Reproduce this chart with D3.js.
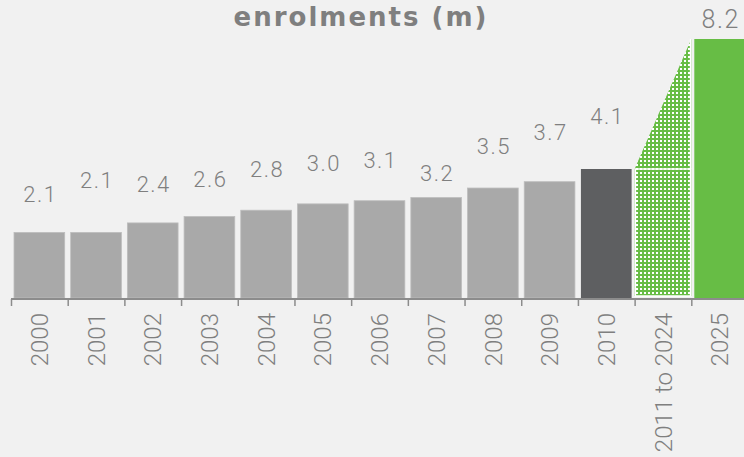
<!DOCTYPE html>
<html>
<head>
<meta charset="utf-8">
<script src="https://cdn.jsdelivr.net/npm/d3@7"></script>
<style>
    html, body { margin: 0; padding: 0; background: #f1f1f1; overflow: hidden; }
    text { font-family: Roboto, "Open Sans", sans-serif; fill: #7f7f7f; }
</style>
</head>
<body>
<div id="wrapper"></div>
<script>
// data
const years = ["2000", "2001", "2002", "2003", "2004", "2005", "2006", "2007", "2008", "2009", "2010", "2011 to 2024", "2025"];
const enrolments = [2.1, 2.1, 2.4, 2.6, 2.8, 3.0, 3.1, 3.2, 3.5, 3.7, 4.1, null, 8.2];
const valueLabels = ["2.1", "2.1", "2.4", "2.6", "2.8", "3.0", "3.1", "3.2", "3.5", "3.7", "4.1", "", "8.2"];
const chartTitle = "enrolments (m)";

// layout only: how far each value label sits above its bar (px)
const labelRaise = [30, 44, 31, 30, 33, 33, 33, 17, 34, 42, 45, 0, 11];

function drawChart() {
    let dimensions = {
        width: 744,
        height: 457,
        margins: { top: 39, right: -4, bottom: 158, left: 11 }
    };
    dimensions.boundedWidth = dimensions.width - dimensions.margins.left - dimensions.margins.right;
    dimensions.boundedHeight = dimensions.height - dimensions.margins.top - dimensions.margins.bottom;

    const wrapper = d3.select('#wrapper')
        .append('svg')
        .attr('width', dimensions.width)
        .attr('height', dimensions.height)
        .style('display', 'block');

    wrapper.append('rect')
        .attr('width', dimensions.width)
        .attr('height', dimensions.height)
        .attr('fill', '#f1f1f1');

    // dotted green fill for the projected years
    const pattern = wrapper.append('defs')
        .append('pattern')
        .attr('id', 'dots')
        .attr('patternUnits', 'userSpaceOnUse')
        .attr('width', 4)
        .attr('height', 4);
    pattern.append('rect').attr('width', 4).attr('height', 4).attr('fill', '#67bd45');
    pattern.append('rect').attr('x', 1).attr('y', 1).attr('width', 2).attr('height', 2).attr('fill', '#ffffff');

    const bounds = wrapper.append('g')
        .attr('transform', `translate(${dimensions.margins.left}, ${dimensions.margins.top})`);

    const xScale = d3.scaleBand()
        .domain(years)
        .range([0, dimensions.boundedWidth]);

    const yScale = d3.scaleLinear()
        .domain([0, 8.2])
        .range([dimensions.boundedHeight, 0]);

    const bw = xScale.bandwidth();
    const pad = 3;

    const colorFor = (d, i) => {
        if (years[i] === "2010") return '#5e5f61';
        if (years[i] === "2025") return '#67bd45';
        return '#a9a9a9';
    };

    const solid = years.map((y, i) => ({ year: y, value: enrolments[i], i }))
        .filter(d => d.value !== null);

    bounds.selectAll('rect.bar')
        .data(solid)
        .join('rect')
        .attr('class', 'bar')
        .attr('x', d => xScale(d.year) + pad)
        .attr('y', d => yScale(d.value))
        .attr('width', bw - 2 * pad)
        .attr('height', d => dimensions.boundedHeight - yScale(d.value) - 1)
        .attr('fill', d => colorFor(d, d.i))
        .attr('stroke', d => d.value < 4 ? '#bdbdbd' : 'none')
        .attr('stroke-width', 0.8);

    // projection wedge between 2010 and 2025
    const gapYear = "2011 to 2024";
    const startVal = enrolments[years.indexOf("2010")];
    const endVal = enrolments[years.indexOf("2025")];
    const gx0 = xScale(gapYear);
    const gx1 = gx0 + bw;
    const gBottom = dimensions.boundedHeight - 3;

    bounds.append('path')
        .attr('d', d3.line()([
            [gx0, gBottom],
            [gx0, yScale(startVal)],
            [gx1, yScale(endVal)],
            [gx1, gBottom]
        ]) + 'Z')
        .attr('fill', 'url(#dots)');

    bounds.append('rect')
        .attr('x', gx0 + 0.75)
        .attr('y', yScale(startVal))
        .attr('width', bw - 1.5)
        .attr('height', gBottom - yScale(startVal))
        .attr('fill', 'none')
        .attr('stroke', '#ffffff')
        .attr('stroke-width', 1.5);

    bounds.append('line')
        .attr('x1', gx1 - 0.75).attr('x2', gx1 - 0.75)
        .attr('y1', yScale(endVal)).attr('y2', yScale(startVal))
        .attr('stroke', '#ffffff')
        .attr('stroke-width', 1.5);

    // value labels
    bounds.selectAll('text.value')
        .data(solid)
        .join('text')
        .attr('class', 'value')
        .attr('x', d => xScale(d.year) + bw / 2 + 1)
        .attr('y', d => yScale(d.value) - labelRaise[d.i])
        .attr('text-anchor', 'middle')
        .style('font-size', d => years[d.i] === "2025" ? '25px' : '22px')
        .style('font-weight', 300)
        .style('letter-spacing', '1.5px')
        .text(d => valueLabels[d.i]);

    // x axis: labels from d3 axis, ticks at band edges
    const xAxisGenerator = d3.axisBottom()
        .scale(xScale)
        .tickSize(0)
        .tickPadding(0);

    const xAxis = bounds.append('g')
        .attr('transform', `translate(0, ${dimensions.boundedHeight})`)
        .call(xAxisGenerator);

    xAxis.select('.domain').remove();
    xAxis.selectAll('.tick text')
        .attr('transform', 'translate(0, 14) rotate(-90)')
        .attr('text-anchor', 'end')
        .attr('x', 0)
        .attr('y', 0)
        .attr('dy', '0.36em')
        .style('font-size', '24px')
        .style('font-weight', 300)
        .style('font-family', 'Roboto, sans-serif')
        .attr('fill', '#7f7f7f');

    xAxis.append('line')
        .attr('x1', 0)
        .attr('x2', dimensions.boundedWidth)
        .attr('y1', 0).attr('y2', 0)
        .attr('stroke', '#8c8c8c')
        .attr('stroke-width', 2);

    xAxis.selectAll('line.edge')
        .data(years)
        .join('line')
        .attr('class', 'edge')
        .attr('x1', d => xScale(d) + 0.5)
        .attr('x2', d => xScale(d) + 0.5)
        .attr('y1', 0)
        .attr('y2', 7)
        .attr('stroke', '#8c8c8c')
        .attr('stroke-width', 1.5);

    // title
    wrapper.append('text')
        .attr('x', 361)
        .attr('y', 26)
        .attr('text-anchor', 'middle')
        .style('font-family', '"DejaVu Sans", Verdana, sans-serif')
        .style('font-weight', 'bold')
        .style('font-size', '26px')
        .style('letter-spacing', '2px')
        .attr('fill', '#7f7f7f')
        .text(chartTitle);
}

drawChart();
</script>
</body>
</html>
